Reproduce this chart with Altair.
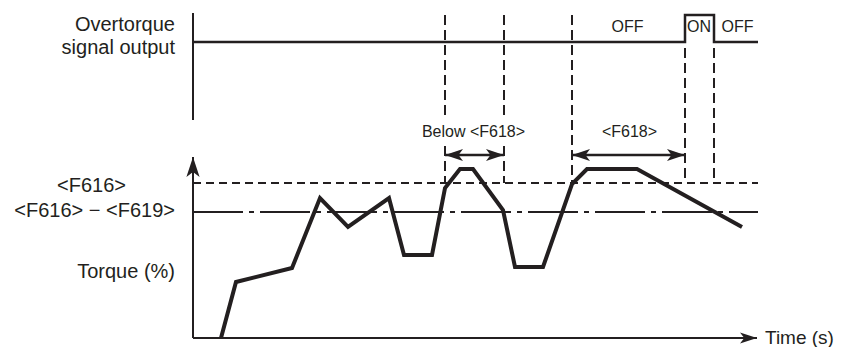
import altair as alt
import pandas as pd

INK = "#231f20"
FONT = "Liberation Sans"

# Torque curve (time units, torque units)
CURVE_T = [28, 43, 99, 127, 155, 196, 211, 239, 252, 267, 280, 310, 322, 350, 379, 394, 444, 549]
CURVE_Q = [0, 56, 70, 140, 111, 140, 83, 83, 150, 169, 169, 128, 71, 71, 154, 169, 169, 111]

# Overtorque signal output trace (drawn in upper band)
SIGNAL_T = [0, 492, 492, 521, 521, 565]
SIGNAL_V = [296, 296, 323, 323, 296, 296]

# Threshold levels
F616 = 155
F616_MINUS_F619 = 126
REF_END = 565

# Dashed timing markers: time, from, to
MARK_T = [252, 252, 311, 311, 379, 492, 521]
MARK_V1 = [323, 192, 323, 192, 323, 290, 290]
MARK_V2 = [223, 155, 223, 155, 155, 155, 155]

# Duration arrows
ARROW_T1 = [252, 379]
ARROW_T2 = [311, 492]
ARROW_V = 183

# Axes
AXIS_X_END = 564
AXIS_Y_END = 181
TOP_AXIS_V = [218, 325]

# Labels
LBL_TEXT = ["Overtorque", "signal output", "<F616>", "<F616> \u2212 <F619>", "Torque (%)",
            "Time (s)", "Below <F618>", "<F618>", "OFF", "ON", "OFF"]
LBL_T = [-18, -18, -101.5, -18, -18, 572, 280.5, 436.5, 434.5, 506, 544.5]
LBL_V = [307, 284, 146, 121, 60, -6, 201, 201, 306, 306, 306]
LBL_SIZE = [20, 20, 20, 20, 20, 19, 16, 16, 16, 16, 16]
LBL_ALIGN = ["right", "right", "center", "right", "right", "left",
             "center", "center", "center", "center", "center"]

xs = alt.Scale(domain=[-185, 642], nice=False, zero=False)
ys = alt.Scale(domain=[-9, 330], nice=False, zero=False)

def X(f="t"):
    return alt.X(f"{f}:Q", scale=xs, axis=None)

def Y(f="v"):
    return alt.Y(f"{f}:Q", scale=ys, axis=None)

# arrowhead pointing right, tip at origin
HEAD = "M0,0L-2,-0.66L-1.5,0L-2,0.66Z"

layers = []

# reference lines
ref = pd.DataFrame({"t": [0, 0], "t2": [REF_END, REF_END],
                    "v": [F616, F616_MINUS_F619], "kind": ["dash", "dashdot"]})
layers.append(alt.Chart(ref[ref.kind == "dash"]).mark_rule(
    color=INK, strokeWidth=2, strokeDash=[8, 5]).encode(x=X(), x2="t2:Q", y=Y()))
layers.append(alt.Chart(ref[ref.kind == "dashdot"]).mark_rule(
    color=INK, strokeWidth=2, strokeDash=[50, 6, 5, 6]).encode(x=X(), x2="t2:Q", y=Y()))

# dashed markers
marks = pd.DataFrame({"t": MARK_T, "v": MARK_V1, "v2": MARK_V2})
layers.append(alt.Chart(marks).mark_rule(
    color=INK, strokeWidth=2, strokeDash=[10, 5]).encode(x=X(), y=Y(), y2="v2:Q"))

# signal
sig = pd.DataFrame({"t": SIGNAL_T, "v": SIGNAL_V, "i": range(len(SIGNAL_T))})
layers.append(alt.Chart(sig).mark_line(color=INK, strokeWidth=2.5, strokeJoin="miter").encode(
    x=X(), y=Y(), order="i:Q"))

# torque curve
cur = pd.DataFrame({"t": CURVE_T, "v": CURVE_Q, "i": range(len(CURVE_T))})
layers.append(alt.Chart(cur).mark_line(color=INK, strokeWidth=4, strokeJoin="miter").encode(
    x=X(), y=Y(), order="i:Q"))

# axes lines
axes = pd.DataFrame({"t": [0, 0, 0], "t2": [0, 0, AXIS_X_END],
                     "v": [0, TOP_AXIS_V[0], 0], "v2": [AXIS_Y_END, TOP_AXIS_V[1], 0]})
layers.append(alt.Chart(axes).mark_rule(color=INK, strokeWidth=2).encode(
    x=X(), x2="t2:Q", y=Y(), y2="v2:Q"))

# duration arrows shafts
arr = pd.DataFrame({"t": ARROW_T1, "t2": ARROW_T2, "v": [ARROW_V] * len(ARROW_T1)})
layers.append(alt.Chart(arr).mark_rule(color=INK, strokeWidth=2.5).encode(
    x=X(), x2="t2:Q", y=Y()))

# arrowheads
heads = pd.DataFrame({
    "t": ARROW_T1 + ARROW_T2,
    "v": [ARROW_V] * 4,
    "ang": [180, 180, 0, 0],
})
layers.append(alt.Chart(heads).mark_point(
    shape=HEAD, filled=True, fill=INK, strokeWidth=0, opacity=1, size=324).encode(
    x=X(), y=Y(), angle=alt.Angle("ang:Q", scale=None)))

axheads = pd.DataFrame({"t": [0, AXIS_X_END], "v": [AXIS_Y_END, 0], "ang": [270, 0],
                        "sz": [400, 289]})
layers.append(alt.Chart(axheads).mark_point(
    shape=HEAD, filled=True, fill=INK, strokeWidth=0, opacity=1).encode(
    x=X(), y=Y(), angle=alt.Angle("ang:Q", scale=None), size=alt.Size("sz:Q", scale=None)))

# labels
lbl = pd.DataFrame({"text": LBL_TEXT, "t": LBL_T, "v": LBL_V, "fs": LBL_SIZE, "al": LBL_ALIGN})
for al in ["left", "center", "right"]:
    sub = lbl[lbl.al == al]
    layers.append(alt.Chart(sub).mark_text(
        align=al, baseline="alphabetic", font=FONT, color=INK).encode(
        x=X(), y=Y(), text="text:N", size=alt.Size("fs:Q", scale=None)))

chart = alt.layer(*layers).properties(
    width=827, height=339,
    autosize=alt.AutoSizeParams(type="none"),
    padding=0,
).configure_view(stroke=None)

chart.save("out.html", embed_options={"renderer": "svg", "actions": False})
